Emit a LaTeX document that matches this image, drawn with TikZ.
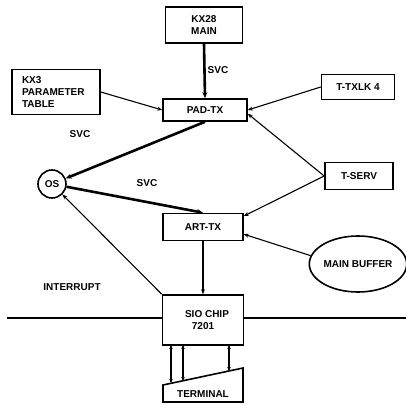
\documentclass[tikz,border=0pt]{standalone}
\usepackage{fontspec}
\setmainfont{Liberation Sans}
\usepackage{tikz}
\usetikzlibrary{arrows.meta,shapes.geometric}

\begin{document}
\begin{tikzpicture}[x=1pt,y=-1pt,every node/.style={font=\bfseries\fontsize{10}{12}\selectfont,align=center},box/.style={draw=black,line width=1.6pt,inner sep=2pt},thin link/.style={-{Stealth[length=5pt,width=4pt]},line width=1.1pt},thick link/.style={-{Stealth[length=6pt,width=5pt]},line width=2.6pt},both link/.style={{Stealth[length=4pt,width=3.5pt]}-{Stealth[length=4pt,width=3.5pt]},line width=1.2pt}]
\useasboundingbox (0,0) rectangle (406,406);
\node[box,minimum width=77pt,minimum height=36pt] (kx28) at (204,25) {KX28\\MAIN};
\node[box,minimum width=88pt,minimum height=45pt,align=left,text width=68pt] (kx3) at (56,92) {KX3\\PARAMETER\\TABLE};
\node[box,minimum width=84pt,minimum height=22pt] (pad) at (205,110) {PAD-TX};
\draw[thick link] (kx28.south) -- (pad.north);
\draw[thin link] (kx3.east) -- (pad.west);
\node[box,minimum width=73pt,minimum height=25pt] (txlk) at (358,87) {T-TXLK 4};
\draw[thin link] (txlk.west) -- (pad.east);
\node[circle,draw=black,line width=1.6pt,minimum size=28pt,inner sep=0pt] (os) at (52,184) {OS};
\draw[thick link] (pad.south) -- (os);
\node[box,minimum width=68pt,minimum height=27pt] (tserv) at (359,176) {T-SERV};
\draw[thin link] (tserv.west) -- (pad.-5);
\node[box,minimum width=80pt,minimum height=27pt] (art) at (203,227) {ART-TX};
\draw[thick link] (os) -- (art.north);
\draw[thin link] (tserv.west) -- (art.15);
\node[ellipse,draw=black,line width=1.6pt,minimum width=96pt,minimum height=56pt,inner sep=0pt] (buf) at (358,264) {MAIN BUFFER};
\draw[thin link] (buf.170) -- (art.-10);
\node[box,minimum width=81pt,minimum height=50pt] (sio) at (203,320) {\hspace*{8pt}SIO CHIP\\7201};
\draw[thin link] (art.south) -- (sio.north);
\draw[thin link] (sio.north west) -- (os);
\coordinate (lineL) at (7,318);
\coordinate (lineR) at (406,318);
\draw[line width=1.6pt] (lineL) -- (sio.west |- lineL);
\draw[line width=1.6pt] (sio.east |- lineR) -- (lineR);
\node (svca) at (218,70) {SVC};
\node (svcb) at (80,134) {SVC};
\node (svcc) at (147,183) {SVC};
\node (intr) at (72,287) {INTERRUPT};
\draw[line width=1.6pt] (163,402) -- (163,385) -- (243,368) -- (243,402) -- cycle;
\node (term) at (203,394) {TERMINAL};
\coordinate (s1) at (171,345);
\coordinate (s2) at (183,345);
\coordinate (s3) at (229,345);
\coordinate (t1) at (171,383);
\coordinate (t2) at (183,381);
\coordinate (t3) at (229,371);
\draw[both link] (s1) -- (t1);
\draw[both link] (s2) -- (t2);
\draw[both link] (s3) -- (t3);
\end{tikzpicture}
\end{document}
